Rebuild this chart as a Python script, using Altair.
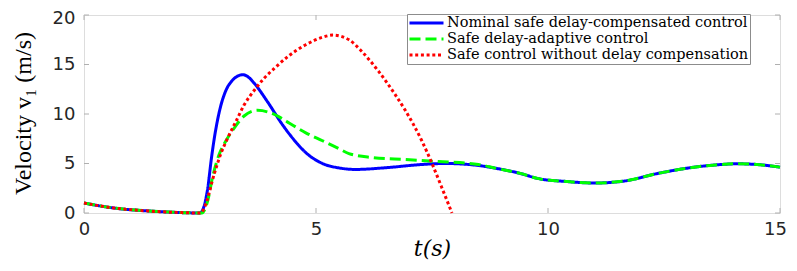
import altair as alt
import pandas as pd

names = ["Nominal safe delay-compensated control",
         "Safe delay-adaptive control",
         "Safe control without delay compensation"]

tail_t = [8.86, 9.4, 9.8, 10.4, 11.0, 11.6, 12.4, 13.15, 13.6, 14.08, 14.5, 15]
tail_v = [4.53, 4.0, 3.47, 3.18, 3.03, 3.2, 4.03, 4.63, 4.85, 4.97, 4.9, 4.63]

blue_t = [0, 0.7, 1.4, 2.1, 2.5, 2.67, 2.74, 2.81, 2.92, 3.06, 3.17, 3.3, 3.42, 3.55, 3.67,
          3.96, 4.28, 4.56, 4.78, 5.14, 5.5, 5.85, 6.57, 7.28, 7.78, 8.5] + tail_t
blue_v = [1.0, 0.47, 0.2, 0.04, 0.0, 2.6, 5.3, 7.6, 10.3, 12.4, 13.25, 13.8, 13.97, 13.7, 13.1,
          11.2, 8.9, 7.2, 6.1, 5.0, 4.55, 4.4, 4.6, 4.9, 5.0, 4.8] + tail_v

green_t = [0, 0.7, 1.4, 2.1, 2.54, 2.67, 2.77, 2.92, 3.06, 3.24, 3.45, 3.74, 4.03, 4.28,
           4.42, 4.78, 5.14, 5.49, 5.71, 6.21, 6.92, 7.64, 8.5] + tail_t
green_v = [1.0, 0.47, 0.2, 0.04, 0.0, 1.3, 3.6, 6.0, 7.3, 8.6, 9.8, 10.37, 10.1, 9.5,
           9.1, 8.1, 7.3, 6.5, 6.0, 5.6, 5.4, 5.2, 4.9] + tail_v

red_t = [0, 0.7, 1.4, 2.1, 2.52, 2.6, 2.81, 2.95, 3.1, 3.28, 3.45, 3.67, 3.88, 4.1, 4.42,
         4.78, 5.14, 5.36, 5.71, 5.99, 6.35, 6.7, 6.92, 7.28, 7.5, 7.7, 7.93]
red_v = [1.0, 0.47, 0.2, 0.04, 0.0, 0.6, 4.0, 6.0, 7.6, 9.3, 10.9, 12.4, 13.6, 14.6, 15.9,
         17.0, 17.75, 17.97, 17.5, 16.3, 14.3, 12.0, 10.4, 7.3, 5.0, 2.7, 0.0]

x_ticks = [0, 5, 10, 15]
y_ticks = [0, 5, 10, 15, 20]

rows = []
for name, ts, vs in zip(names, [blue_t, green_t, red_t], [blue_v, green_v, red_v]):
    for i, (t, v) in enumerate(zip(ts, vs)):
        rows.append({"series": name, "t": t, "v": v, "i": i})
df = pd.DataFrame(rows)

W, H = 696, 198

xscale = alt.Scale(domain=[0, 15], nice=False, zero=False)
yscale = alt.Scale(domain=[0, 20], nice=False, zero=False)

axis_common = dict(
    domain=False, ticks=False, grid=False, labelFlush=False,
    labelFont="DejaVu Sans", labelFontSize=18, labelColor="#262626",
)
xaxis = alt.Axis(values=x_ticks, title="t(s)", titleFont="DejaVu Serif",
                 titleFontSize=22, titleFontStyle="italic", titleFontWeight="normal",
                 titleColor="#000000", titlePadding=0, labelPadding=7,
                 labelOffset={"condition": {"test": "datum.value == 15", "value": -5}, "value": 0},
                 **axis_common)
yaxis = alt.Axis(values=y_ticks, title="Velocity v\u2081 (m/s)", titleFont="Liberation Serif",
                 titleFontSize=24, titleFontWeight="normal", titleColor="#000000",
                 titleX=-61, titleY=98, titleAlign="center", titleBaseline="middle",
                 titleAngle=270, labelPadding=9,
                 labelOffset={"condition": {"test": "datum.value == 20", "value": 3}, "value": 0},
                 **axis_common)

color = alt.Color("series:N", scale=alt.Scale(domain=names, range=["#0000ff", "#00ff00", "#ff0000"]),
                  legend=alt.Legend(title=None, orient="none", legendX=323, legendY=-1,
                                    symbolType="stroke", symbolStrokeWidth=3, symbolSize=1156,
                                    labelFont="DejaVu Serif", labelFontSize=14.5, labelColor="#000000",
                                    labelLimit=500, labelOffset=2, clipHeight=16, rowPadding=0,
                                    padding=1, strokeColor="#8c8c8c", fillColor="#ffffff"))
dash = alt.StrokeDash("series:N", scale=alt.Scale(domain=names, range=[[1, 0], [11, 5], [3, 2.7]]),
                      legend=None)

def series_layer(name):
    return alt.Chart(df).transform_filter(alt.datum.series == name).mark_line(
        strokeWidth=3, interpolate="monotone", strokeCap="butt"
    ).encode(
        x=alt.X("t:Q", scale=xscale, axis=xaxis),
        y=alt.Y("v:Q", scale=yscale, axis=yaxis),
        color=color,
        strokeDash=dash,
        order="i:Q",
    )

tick_col = "#b0b0b0"
xt = pd.DataFrame({"t": x_ticks})
yt = pd.DataFrame({"v": y_ticks})
bottom_ticks = alt.Chart(xt).mark_rule(color=tick_col, strokeWidth=1).encode(
    x=alt.X("t:Q", scale=xscale, axis=xaxis), y=alt.value(H), y2=alt.value(H - 5))
top_ticks = alt.Chart(xt).mark_rule(color=tick_col, strokeWidth=1).encode(
    x=alt.X("t:Q", scale=xscale, axis=xaxis), y=alt.value(0), y2=alt.value(5))
left_ticks = alt.Chart(yt).mark_rule(color=tick_col, strokeWidth=1).encode(
    y=alt.Y("v:Q", scale=yscale, axis=yaxis), x=alt.value(0), x2=alt.value(5))
right_ticks = alt.Chart(yt).mark_rule(color=tick_col, strokeWidth=1).encode(
    y=alt.Y("v:Q", scale=yscale, axis=yaxis), x=alt.value(W), x2=alt.value(W - 5))

chart = alt.layer(
    bottom_ticks, top_ticks, left_ticks, right_ticks,
    series_layer(names[0]), series_layer(names[1]), series_layer(names[2]),
).properties(
    width=W, height=H,
    autosize=alt.AutoSizeParams(type="none"),
    padding={"left": 76, "top": 7, "right": 9, "bottom": 50},
).configure_view(stroke="#b0b0b0", strokeWidth=1).configure(background="#ffffff")

chart.save("out.html", embed_options={"renderer": "svg", "actions": False})
